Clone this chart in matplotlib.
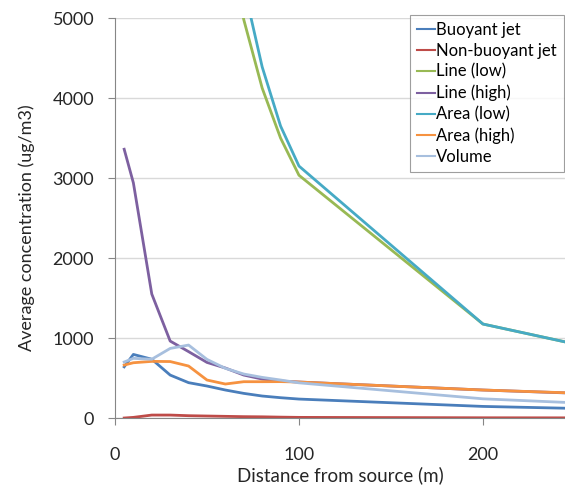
import numpy as np
import matplotlib
matplotlib.use('Agg')
import matplotlib.pyplot as plt

plt.rcParams['font.family'] = ['Lato', 'DejaVu Sans']

distance = [5, 10, 20, 30, 40, 50, 60, 70, 80, 90, 100, 200, 250]
nan = np.nan

buoyant_jet = [640, 795, 735, 537, 442, 400, 350, 308, 275, 254, 237, 145, 120]
non_buoyant_jet = [0, 8, 37, 37, 29, 25, 21, 17, 15, 11, 8, 3, 2]
line_low = [nan, nan, nan, nan, nan, nan, 6200, 4980, 4125, 3500, 3035, 1175, 925]
line_high = [3360, 2940, 1550, 962, 830, 695, 625, 537, 487, 462, 450, 350, 310]
area_low = [nan, nan, nan, nan, nan, nan, 6800, 5400, 4390, 3650, 3150, 1175, 925]
area_high = [662, 691, 708, 706, 650, 475, 425, 454, 454, 455, 450, 350, 312]
volume = [700, 746, 735, 870, 912, 733, 621, 550, 508, 475, 440, 240, 190]

series = [
    ('Buoyant jet', buoyant_jet, '#4A7EBB'),
    ('Non-buoyant jet', non_buoyant_jet, '#BE4B48'),
    ('Line (low)', line_low, '#98B954'),
    ('Line (high)', line_high, '#7D60A0'),
    ('Area (low)', area_low, '#46AAC5'),
    ('Area (high)', area_high, '#F69240'),
    ('Volume', volume, '#A7BFDE'),
]

fig = plt.figure(figsize=(5.65, 4.88), dpi=100)
ax = fig.add_axes([0.2035, 0.1434, 0.7965, 0.8196])

for name, ys, color in series:
    ax.plot(distance, ys, color=color, lw=2, label=name)

ax.set_xlim(0, 244.6)
ax.set_ylim(0, 5000)
ax.set_xticks([0, 100, 200])
ax.set_yticks([0, 1000, 2000, 3000, 4000, 5000])
ax.grid(axis='y', color='#d9d9d9', lw=1)
ax.set_axisbelow(True)

for side in ['top', 'right']:
    ax.spines[side].set_visible(False)
for side in ['left', 'bottom']:
    ax.spines[side].set_color('#868686')
ax.tick_params(axis='both', colors='#868686', labelcolor='#262626', labelsize=13, length=5, direction='out')
ax.tick_params(axis='x', pad=16)
ax.tick_params(axis='y', pad=10)

ax.set_xlabel('Distance from source (m)', fontsize=13.5, color='#262626', labelpad=2)
ax.set_ylabel('Average concentration (ug/m3)', fontsize=13, color='#262626')
ax.yaxis.set_label_coords(-0.178, 0.477)

leg = ax.legend(loc='upper right', bbox_to_anchor=(0.997, 1.0075), borderaxespad=0,
                fontsize=12, handlelength=1.08, handletextpad=0.1, labelspacing=0.3,
                borderpad=0.4, frameon=True, fancybox=False)
leg.get_frame().set_edgecolor('#868686')
leg.get_frame().set_linewidth(0.8)
for h in leg.get_lines():
    h.set_linewidth(1.5)

fig.savefig('out.png', dpi=100)
